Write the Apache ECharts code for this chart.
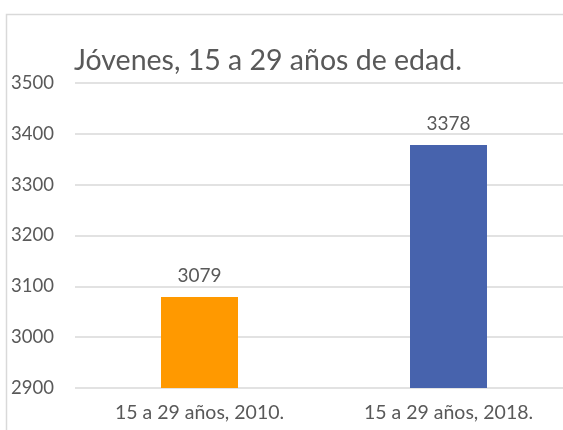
<!DOCTYPE html>
<html>
<head>
<meta charset="utf-8">
<script src="https://cdn.jsdelivr.net/npm/echarts@6/dist/echarts.min.js"></script>
<style>
  html, body { margin: 0; padding: 0; background: #fff; overflow: hidden; }
  #chart { width: 573px; height: 430px; }
</style>
</head>
<body>
<div id="chart"></div>
<script>
const categories = ['15 a 29 años, 2010.', '15 a 29 años, 2018.']
const values = [3079, 3378]
const barColors = ['#ff9900', '#4763ad']

const chart = echarts.init(document.getElementById('chart'))

chart.setOption({
  backgroundColor: '#fff',
  animation: false,
  textStyle: { fontFamily: 'Lato' },
  title: {
    text: 'Jóvenes, 15 a 29 años de edad.',
    left: 69,
    top: 41,
    textStyle: { fontFamily: 'Lato', fontSize: 28.5, fontWeight: 'normal', color: '#595959' }
  },
  graphic: [{
    type: 'rect',
    shape: { x: 6.5, y: 14.5, width: 600, height: 500 },
    style: { fill: 'none', stroke: '#d9d9d9', lineWidth: 1.5 },
    silent: true
  }],
  grid: { left: 75, right: 0, top: 83, bottom: 42 },
  xAxis: {
    type: 'category',
    data: categories,
    axisLine: { show: false },
    axisTick: { show: false },
    axisLabel: { color: '#595959', fontSize: 19.5, margin: 15 }
  },
  yAxis: {
    type: 'value',
    min: 2900,
    max: 3500,
    interval: 100,
    axisLine: { show: false },
    axisTick: { show: false },
    axisLabel: { color: '#595959', fontSize: 18.5, margin: 21, formatter: v => String(v) },
    splitLine: { lineStyle: { color: '#d9d9d9', width: 1.5 } }
  },
  series: [{
    type: 'bar',
    barWidth: 77,
    data: values.map((v, i) => ({ value: v, itemStyle: { color: barColors[i] } })),
    label: {
      show: true,
      position: 'top',
      distance: 12,
      color: '#595959',
      fontSize: 19
    }
  }]
})
</script>
</body>
</html>
